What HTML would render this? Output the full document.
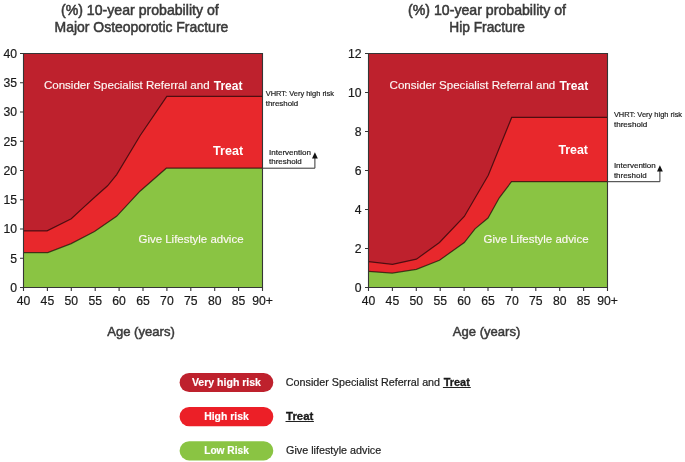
<!DOCTYPE html>
<html><head><meta charset="utf-8"><style>
html,body{margin:0;padding:0;background:#fff;width:685px;height:462px;overflow:hidden}
svg{display:block;will-change:transform}
text{font-family:"Liberation Sans",sans-serif}
.t{font-size:15px;fill:#3a3a3a;stroke:#3a3a3a;stroke-width:0.55px}
.ax{font-size:12.2px;fill:#1a1a1a;stroke:#1a1a1a;stroke-width:0.2px}
.ag{font-size:13.5px;fill:#3a3a3a;stroke:#3a3a3a;stroke-width:0.5px}
.w{font-size:11.6px;fill:#fdf7f5;stroke:#fdf7f5;stroke-width:0.15px}
.wb{font-size:12px;font-weight:bold;fill:#fff}
.an{font-size:8px;fill:#222;stroke:#222;stroke-width:0.2px}
.lg{font-size:11px;fill:#222;stroke:#222;stroke-width:0.2px}
.lgb{font-size:10.3px;font-weight:bold;fill:#1a1a1a;stroke:#1a1a1a;stroke-width:0.3px}
.pb{font-size:11px;font-weight:bold;fill:#fff;stroke:#fff;stroke-width:0.15px}
</style></head><body>
<svg width="685" height="462" viewBox="0 0 685 462">
<!-- Titles -->
<text class="t" x="61" y="15.2" textLength="157.7" lengthAdjust="spacingAndGlyphs">(%) 10-year probability of</text>
<text class="t" x="54.6" y="32.1" textLength="173.7" lengthAdjust="spacingAndGlyphs">Major Osteoporotic Fracture</text>
<text class="t" x="408.1" y="15.2" textLength="157.9" lengthAdjust="spacingAndGlyphs">(%) 10-year probability of</text>
<text class="t" x="449.3" y="32.1" textLength="75.6" lengthAdjust="spacingAndGlyphs">Hip Fracture</text>

<!-- LEFT CHART -->
<rect x="23.5" y="53.5" width="239" height="234" fill="#be212d"/>
<polygon fill="#e8282c" points="23.5,230.9 47.1,230.9 71.3,218.7 83,207.9 95.5,196.5 107.6,185.8 116.7,174.6 140.2,135.5 166.8,96.4 262.5,96.4 262.5,287.5 23.5,287.5"/>
<polygon fill="#8ac443" points="23.5,252.6 47.8,252.6 71.2,243.6 94.5,231.6 116.6,216.3 140,191.2 166.3,168.2 262.5,168.2 262.5,287.5 23.5,287.5"/>
<polyline fill="none" stroke="#000" stroke-opacity="0.62" stroke-width="1.2" points="23.5,230.9 47.1,230.9 71.3,218.7 83,207.9 95.5,196.5 107.6,185.8 116.7,174.6 140.2,135.5 166.8,96.4 262.5,96.4"/>
<polyline fill="none" stroke="#000" stroke-opacity="0.62" stroke-width="1.2" points="23.5,252.6 47.8,252.6 71.2,243.6 94.5,231.6 116.6,216.3 140,191.2 166.3,168.2 262.5,168.2"/>
<polyline fill="none" stroke="#333" stroke-width="1" points="262.5,168.2 314.9,168.2 314.9,157"/>
<polygon fill="#111" points="314.9,152.2 312,158.6 317.8,158.6"/>
<!-- axes -->
<path fill="none" stroke="#353535" stroke-width="1.1" d="M20,53.5H262.5V287.5H23.5V53.5
M20,82.75H23.5M20,112H23.5M20,141.25H23.5M20,170.5H23.5M20,199.75H23.5M20,229H23.5M20,258.25H23.5M20,287.5H23.5
M23.5,287.5V291M47.4,287.5V291M71.3,287.5V291M95.2,287.5V291M119.1,287.5V291M143,287.5V291M166.9,287.5V291M190.8,287.5V291M214.7,287.5V291M238.6,287.5V291M262.5,287.5V291"/>
<g class="ax" text-anchor="end">
<text x="17" y="57.8">40</text><text x="17" y="87">35</text><text x="17" y="116.3">30</text><text x="17" y="145.5">25</text><text x="17" y="174.8">20</text><text x="17" y="204">15</text><text x="17" y="233.3">10</text><text x="17" y="262.5">5</text><text x="17" y="291.8">0</text>
</g>
<g class="ax" text-anchor="middle">
<text x="23.5" y="304.8">40</text><text x="47.4" y="304.8">45</text><text x="71.3" y="304.8">50</text><text x="95.2" y="304.8">55</text><text x="119.1" y="304.8">60</text><text x="143" y="304.8">65</text><text x="166.9" y="304.8">70</text><text x="190.8" y="304.8">75</text><text x="214.7" y="304.8">80</text><text x="238.6" y="304.8">85</text><text x="262.5" y="304.8">90+</text>
</g>
<text class="ag" x="107.2" y="335.6" textLength="67.6" lengthAdjust="spacingAndGlyphs">Age (years)</text>
<text class="w" x="43.9" y="89.2" textLength="165.7" lengthAdjust="spacingAndGlyphs">Consider Specialist Referral and</text>
<text class="wb" x="213.7" y="90" textLength="28.8" lengthAdjust="spacingAndGlyphs">Treat</text>
<text class="wb" x="213.1" y="154.5" textLength="30" lengthAdjust="spacingAndGlyphs">Treat</text>
<text class="w" x="138.5" y="242.7" textLength="105" lengthAdjust="spacingAndGlyphs">Give Lifestyle advice</text>
<text class="an" x="265.7" y="96.1" textLength="68.3" lengthAdjust="spacingAndGlyphs">VHRT: Very high risk</text>
<text class="an" x="265.7" y="105.9" textLength="32.6" lengthAdjust="spacingAndGlyphs">threshold</text>
<text class="an" x="269" y="154.6" textLength="42" lengthAdjust="spacingAndGlyphs">Intervention</text>
<text class="an" x="269" y="164.3" textLength="32.8" lengthAdjust="spacingAndGlyphs">threshold</text>

<!-- RIGHT CHART -->
<rect x="368.5" y="53.5" width="239" height="234" fill="#be212d"/>
<polygon fill="#e8282c" points="368.5,261.6 392.5,264.4 416.4,259.2 439.5,242.5 464.3,216.5 488.3,175.2 511.7,117.4 607.5,117.4 607.5,287.5 368.5,287.5"/>
<polygon fill="#8ac443" points="368.5,271.4 392.2,273.1 416.4,269.3 439.5,260.2 464.3,242.6 475,228.8 488,218 499.3,197.8 511.5,181.7 607.5,181.7 607.5,287.5 368.5,287.5"/>
<polyline fill="none" stroke="#000" stroke-opacity="0.62" stroke-width="1.2" points="368.5,261.6 392.5,264.4 416.4,259.2 439.5,242.5 464.3,216.5 488.3,175.2 511.7,117.4 607.5,117.4"/>
<polyline fill="none" stroke="#000" stroke-opacity="0.62" stroke-width="1.2" points="368.5,271.4 392.2,273.1 416.4,269.3 439.5,260.2 464.3,242.6 475,228.8 488,218 499.3,197.8 511.5,181.7 607.5,181.7"/>
<polyline fill="none" stroke="#333" stroke-width="1" points="607.5,181.7 659.9,181.7 659.9,170"/>
<polygon fill="#111" points="659.9,165.2 657,171.6 662.8,171.6"/>
<path fill="none" stroke="#353535" stroke-width="1.1" d="M365,53.5H607.5V287.5H368.5V53.5
M365,92.5H368.5M365,131.5H368.5M365,170.5H368.5M365,209.5H368.5M365,248.5H368.5M365,287.5H368.5
M368.5,287.5V291M392.4,287.5V291M416.3,287.5V291M440.2,287.5V291M464.1,287.5V291M488,287.5V291M511.9,287.5V291M535.8,287.5V291M559.7,287.5V291M583.6,287.5V291M607.5,287.5V291"/>
<g class="ax" text-anchor="end">
<text x="361.6" y="57.8">12</text><text x="361.6" y="96.8">10</text><text x="361.6" y="135.8">8</text><text x="361.6" y="174.8">6</text><text x="361.6" y="213.8">4</text><text x="361.6" y="252.8">2</text><text x="361.6" y="291.8">0</text>
</g>
<g class="ax" text-anchor="middle">
<text x="368.5" y="304.8">40</text><text x="392.4" y="304.8">45</text><text x="416.3" y="304.8">50</text><text x="440.2" y="304.8">55</text><text x="464.1" y="304.8">60</text><text x="488" y="304.8">65</text><text x="511.9" y="304.8">70</text><text x="535.8" y="304.8">75</text><text x="559.7" y="304.8">80</text><text x="583.6" y="304.8">85</text><text x="607.5" y="304.8">90+</text>
</g>
<text class="ag" x="452.8" y="335.6" textLength="67.5" lengthAdjust="spacingAndGlyphs">Age (years)</text>
<text class="w" x="389.6" y="89.2" textLength="165.7" lengthAdjust="spacingAndGlyphs">Consider Specialist Referral and</text>
<text class="wb" x="559.4" y="90" textLength="28.8" lengthAdjust="spacingAndGlyphs">Treat</text>
<text class="wb" x="558.4" y="154.3" textLength="29.6" lengthAdjust="spacingAndGlyphs">Treat</text>
<text class="w" x="483.5" y="242.7" textLength="105" lengthAdjust="spacingAndGlyphs">Give Lifestyle advice</text>
<text class="an" x="613.9" y="117.2" textLength="68.2" lengthAdjust="spacingAndGlyphs">VHRT: Very high risk</text>
<text class="an" x="613.9" y="127.3" textLength="33.3" lengthAdjust="spacingAndGlyphs">threshold</text>
<text class="an" x="613.9" y="167.8" textLength="41.9" lengthAdjust="spacingAndGlyphs">Intervention</text>
<text class="an" x="613.9" y="177.6" textLength="32.7" lengthAdjust="spacingAndGlyphs">threshold</text>

<!-- LEGEND -->
<rect x="179.6" y="372.9" width="93.7" height="19.2" rx="9.6" fill="#be212d"/>
<rect x="179.6" y="407" width="93.7" height="19.3" rx="9.6" fill="#ec1f27"/>
<rect x="179.6" y="441.2" width="93.7" height="19.2" rx="9.6" fill="#8ac443"/>
<text class="pb" x="191.9" y="385.7" textLength="69.1" lengthAdjust="spacingAndGlyphs">Very high risk</text>
<text class="pb" x="204.2" y="419.8" textLength="44.6" lengthAdjust="spacingAndGlyphs">High risk</text>
<text class="pb" x="204.2" y="454" textLength="44.6" lengthAdjust="spacingAndGlyphs">Low Risk</text>
<text class="lg" x="285.8" y="386" textLength="154.3" lengthAdjust="spacingAndGlyphs">Consider Specialist Referral and</text>
<text class="lgb" x="443.7" y="386.2" textLength="26.1" lengthAdjust="spacingAndGlyphs">Treat</text>
<rect x="442.9" y="387" width="27.9" height="1" fill="#222"/>
<text class="lgb" x="286.1" y="420.3" textLength="27.2" lengthAdjust="spacingAndGlyphs">Treat</text>
<rect x="285.5" y="421" width="28.4" height="1" fill="#222"/>
<text class="lg" x="286.1" y="454.3" textLength="95.1" lengthAdjust="spacingAndGlyphs">Give lifestyle advice</text>
</svg>
</body></html>
